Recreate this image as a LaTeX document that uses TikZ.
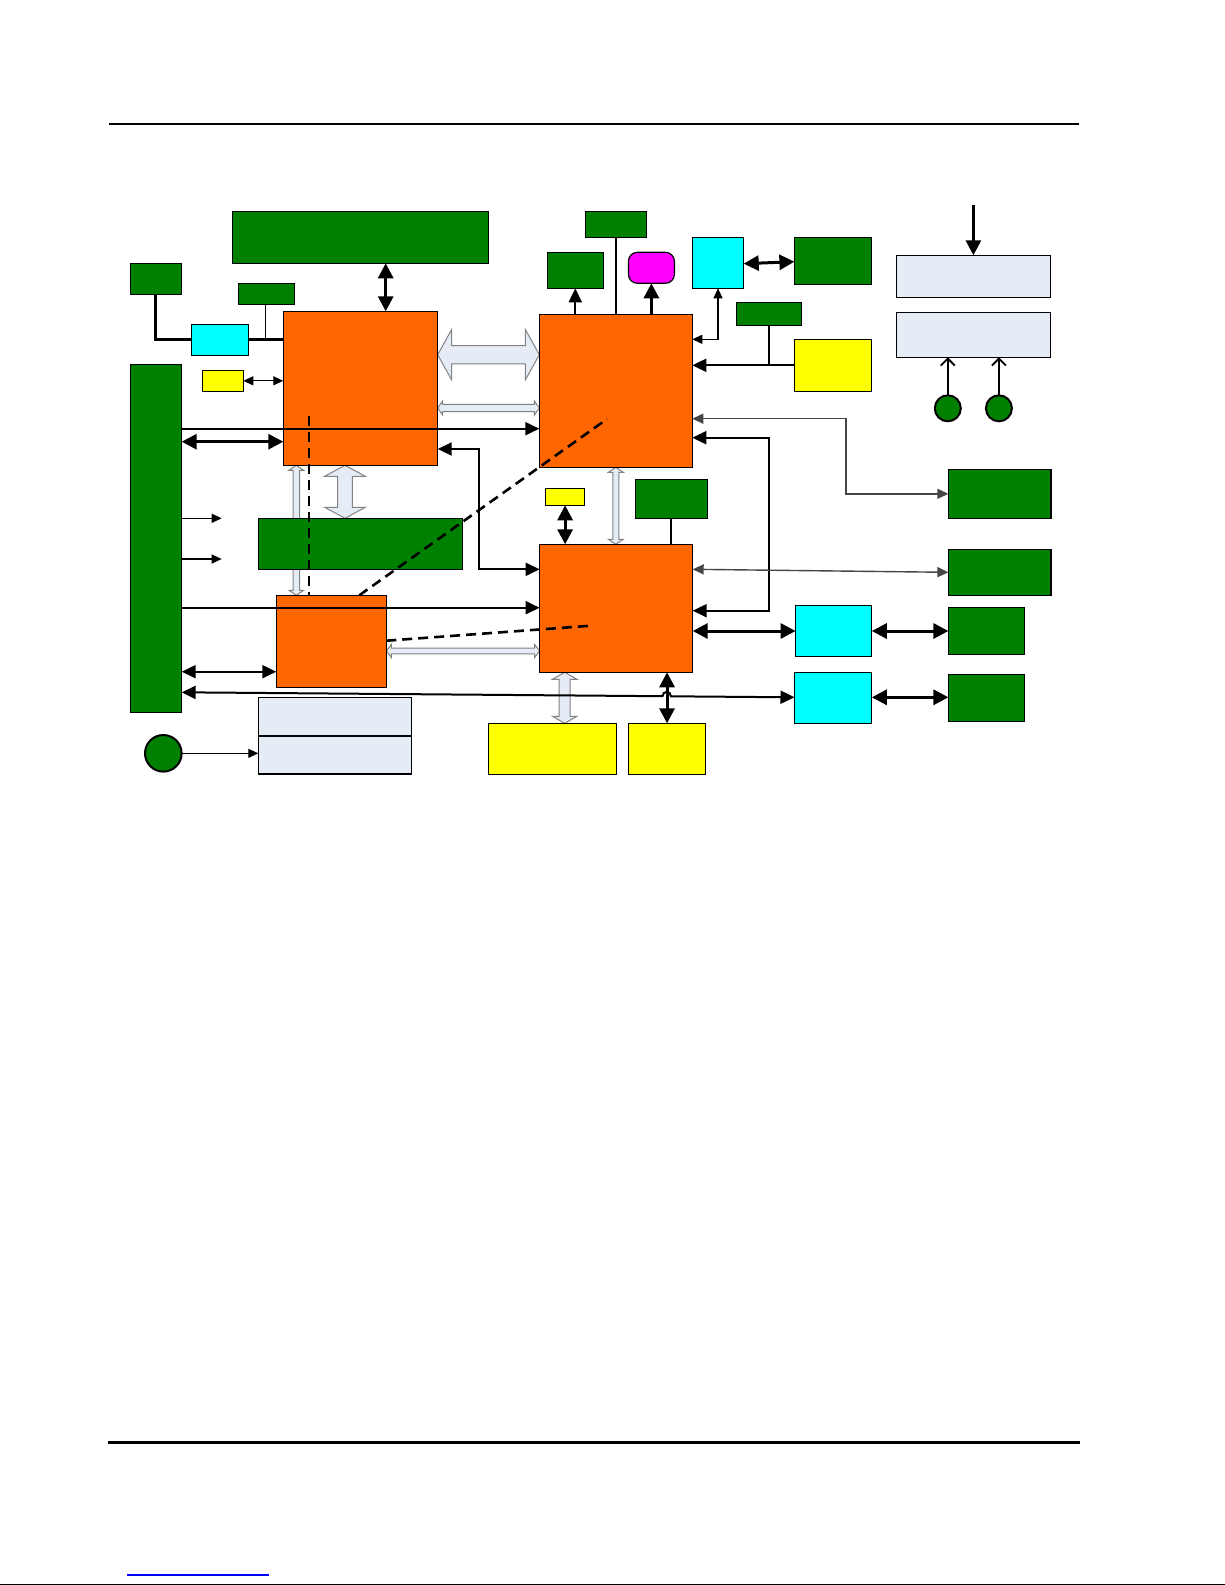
\documentclass[tikz,border=0pt]{standalone}
\usetikzlibrary{arrows.meta,fit}
\definecolor{cgreen}{RGB}{0,128,0}
\definecolor{corange}{RGB}{255,102,0}
\definecolor{ccyan}{RGB}{0,255,255}
\definecolor{cyellow}{RGB}{255,255,0}
\definecolor{cmag}{RGB}{255,0,255}
\definecolor{clight}{RGB}{230,236,246}
\definecolor{cgrline}{RGB}{70,70,70}
\definecolor{chollow}{RGB}{130,130,130}
\definecolor{clink}{RGB}{0,0,255}
% horizontal block double arrow: x1 x2 y shafthalf headhalf headlen
\newcommand\HArrowBlk[6]{%
  \filldraw[hollow] (#1,#3) -- (#1+#6,#3-#5) -- (#1+#6,#3-#4) -- (#2-#6,#3-#4) -- (#2-#6,#3-#5) -- (#2,#3)
   -- (#2-#6,#3+#5) -- (#2-#6,#3+#4) -- (#1+#6,#3+#4) -- (#1+#6,#3+#5) -- cycle;}
% vertical block double arrow: x y1 y2 shafthalf headhalf headlen
\newcommand\VArrowBlk[6]{%
  \filldraw[hollow] (#1,#2) -- (#1-#5,#2+#6) -- (#1-#4,#2+#6) -- (#1-#4,#3-#6) -- (#1-#5,#3-#6) -- (#1,#3)
   -- (#1+#5,#3-#6) -- (#1+#4,#3-#6) -- (#1+#4,#2+#6) -- (#1+#5,#2+#6) -- cycle;}
\tikzset{
  bx/.style={draw=black, line width=0.6pt, inner sep=0pt, outer sep=0pt},
  grn/.style={bx, fill=cgreen},
  org/.style={bx, fill=corange},
  cyb/.style={bx, fill=ccyan},
  ylw/.style={bx, fill=cyellow},
  lgt/.style={bx, fill=clight},
  mgb/.style={bx, fill=cmag, rounded corners=4.5pt},
  dot/.style={circle, draw=black, line width=1pt, fill=cgreen, inner sep=0pt, outer sep=0pt},
  hollow/.style={fill=clight, draw=chollow, line width=0.5pt},
  thk/.style={line width=1.5pt, >={Triangle[length=7.5pt,width=7.5pt]}},
  med/.style={line width=1pt, >={Triangle[length=7pt,width=6.5pt]}},
  thn/.style={line width=0.6pt, >={Triangle[length=5pt,width=4.5pt]}},
  gry/.style={line width=0.7pt, draw=cgrline, >={Triangle[length=5.5pt,width=5pt]}},
  dsh/.style={line width=1.3pt, dash pattern=on 5pt off 3pt},
  barb/.style={line width=0.9pt, >={Straight Barb[length=3.5pt,width=7pt]}},
}
\begin{document}
\begin{tikzpicture}[x=0.5pt,y=-0.5pt]
\useasboundingbox (0,0) rectangle (1225,1585);
\fill[white] (0,0) rectangle (1225,1585);

% page rules
\coordinate (rt1) at (109,124.3); \coordinate (rt2) at (1079,124.3);
\coordinate (rb1) at (108,1442.7); \coordinate (rb2) at (1080,1442.7);
\coordinate (lk1) at (127,1575); \coordinate (lk2) at (269,1575);
\coordinate (bb1) at (0,1584.3); \coordinate (bb2) at (1225,1584.3);
\draw[line width=1pt] (rt1) -- (rt2);
\draw[line width=1.4pt] (rb1) -- (rb2);
\draw[clink, line width=0.6pt] (lk1) -- (lk2);
\draw[line width=0.6pt] (bb1) -- (bb2);

% block arrows (behind boxes)
\HArrowBlk{437.7}{539.3}{354.7}{9.2}{25.3}{14}
\HArrowBlk{437.7}{539.3}{408}{3.7}{7.2}{5}
\VArrowBlk{296.3}{465.3}{595.3}{3.3}{7.3}{5}
\VArrowBlk{345}{465.3}{518.3}{7.3}{20.3}{11}
\VArrowBlk{615.8}{467.3}{544.3}{3}{7.4}{5}
\HArrowBlk{386.3}{539.6}{651}{2.9}{6.5}{5}
\VArrowBlk{564.7}{672.3}{723.3}{5.5}{12.2}{7}

% boxes
\node[grn, fit={(232.3,211.3) (488.7,263.3)}] (topg) {};
\node[grn, fit={(130.3,263.3) (181.7,294.3)}] (tlg) {};
\node[grn, fit={(238.3,283.3) (294.3,304.3)}] (g2) {};
\node[cyb, fit={(191.3,324.3) (248.3,355.3)}] (cy1) {};
\node[org, fit={(283.3,311.3) (437.7,465.3)}] (o1) {};
\node[ylw, fit={(202.3,370.3) (243.3,391.3)}] (y1) {};
\node[grn, fit={(130.3,364.3) (181.7,712.3)}] (tg) {};
\node[grn, fit={(258.3,518.3) (462.3,569.3)}] (gm) {};
\node[org, fit={(276.3,595.3) (386.3,687.3)}] (o4) {};
\node[lgt, fit={(258.3,697.3) (411.3,736)}] (lb1) {};
\node[lgt, fit={(258.3,736) (411.3,774)}] (lb2) {};
\node[dot, minimum size=18.3pt] (c1) at (163.3,753.3) {};
\node[org, fit={(539.3,314.3) (692.3,467.3)}] (o2) {};
\node[grn, fit={(585.4,211.3) (646.6,237.3)}] (gt) {};
\node[grn, fit={(547.2,252.3) (603.7,288.3)}] (gl) {};
\node[mgb, fit={(628.4,252.3) (674.4,283.3)}] (mg) {};
\node[cyb, fit={(692.3,237.3) (743.7,288.3)}] (cy2) {};
\node[grn, fit={(794.4,237.3) (871.8,284.3)}] (gr0) {};
\node[grn, fit={(736.2,302.3) (801.8,325.3)}] (gsm) {};
\node[ylw, fit={(794.4,339.3) (871.8,391.3)}] (y2) {};
\node[lgt, fit={(896.5,255.3) (1050.3,297.3)}] (lbA) {};
\node[lgt, fit={(896.5,312.3) (1050.3,357.3)}] (lbB) {};
\node[dot, minimum size=13pt] (cA) at (947.8,408.3) {};
\node[dot, minimum size=13pt] (cB) at (998.9,408.3) {};
\node[org, fit={(539.6,544.3) (692.7,672.3)}] (o3) {};
\node[ylw, fit={(545.5,488.3) (584.7,505.3)}] (ysm) {};
\node[grn, fit={(635.4,479.3) (707.5,518.3)}] (gs3) {};
\node[grn, fit={(948.4,469.3) (1050.9,518.3)}] (gR1) {};
\node[grn, fit={(948.4,549.3) (1050.9,595.3)}] (gR2) {};
\node[cyb, fit={(795.6,605.3) (871.8,656.3)}] (cy3) {};
\node[grn, fit={(948.4,607.3) (1024.6,654.3)}] (gR3) {};
\node[cyb, fit={(794.5,672.3) (871.8,723.3)}] (cy4) {};
\node[grn, fit={(948.4,674.3) (1024.6,721.3)}] (gR4) {};
\node[ylw, fit={(488.5,723.3) (616.5,774.3)}] (yl1) {};
\node[ylw, fit={(628.4,723.3) (705.7,774.3)}] (yl2) {};

% free ends
\coordinate (tipA) at (221.7,518.3);
\coordinate (tipB) at (221.7,559);
\coordinate (topin) at (973.4,205.3);

% connectors, left part
\draw[thk,<->] (385.7,0 |- topg.south) -- (385.7,0 |- o1.north);
\draw[line width=1.5pt] (155.7,0 |- tlg.south) |- (cy1.west);
\draw[line width=1.5pt] (cy1.east) -- (o1.west |- cy1.east);
\draw[line width=0.7pt] (265.7,0 |- g2.south) -- (265.7,0 |- cy1.east);
\draw[thn,<->] (y1.east) -- (o1.west |- y1.east);
\draw[med,->] (tg.east |- 0,428.7) -- (o2.west |- 0,428.7);
\draw[thk,<->] (tg.east |- 0,441.7) -- (o1.west |- 0,441.7);
\draw[med,<->] (o1.east |- 0,449) -| (479.3,569.3) -- (o3.west |- 0,569.3);
\draw[thn,->] (tg.east |- tipA) -- (tipA);
\draw[thn,->] (tg.east |- tipB) -- (tipB);
\draw[med,->] (tg.east |- 0,607.7) -- (o3.west |- 0,607.7);
\draw[med,<->] (tg.east |- 0,671.7) -- (o4.west |- 0,671.7);
\draw[med,<->] (tg.east |- 0,692.3) -- (662.5,696.2) .. controls (662.5,690.5) and (671,690.5) .. (671,696.3) -- (cy4.west |- 0,697.3);
\draw[thn,->] (c1.east) -- (lb2.west |- c1.east);

% dashed lines
\draw[dsh] (309,415.7) -- (309,0 |- o4.north);
\draw[dsh] (359.3,0 |- o4.north) -- (607,419);
\draw[dsh] (o4.east |- 0,640.7) -- (591,625.7);

% connectors, upper right
\draw[med,->] (575.3,0 |- o2.north) -- (575.3,0 |- gl.south);
\draw[line width=1pt] (615.9,0 |- o2.north) -- (615.9,0 |- gt.south);
\draw[thk,->] (651.4,0 |- o2.north) -- (651.4,0 |- mg.south);
\draw[thk,<->] (cy2.east |- 0,263.7) -- (gr0.west |- 0,261.7);
\draw[thn,<->] (o2.east |- 0,339.3) -| (718,0 |- cy2.south);
\draw[line width=1pt] (769,0 |- gsm.south) -- (769,0 |- y2.west);
\draw[med,->] (y2.west) -- (o2.east |- y2.west);
\draw[gry,<->] (o2.east |- 0,418.7) -| (845.8,493.8) -- (gR1.west);
\draw[med,<->] (o2.east |- 0,437.7) -| (768.6,610.7) -- (o3.east |- 0,610.7);
\draw[thk,->] (topin) -- (lbA.north);
\draw[barb,->] (cA.north) -- (cA.north |- lbB.south);
\draw[barb,->] (cB.north) -- (cB.north |- lbB.south);

% connectors, lower right
\draw[thk,<->] (ysm.south) -- (ysm.south |- o3.north);
\draw[line width=1pt] (671.3,0 |- gs3.south) -- (671.3,0 |- o3.north);
\draw[gry,<->] (o3.east |- 0,569.3) -- (gR2.west |- 0,572.3);
\draw[thk,<->] (o3.east |- 0,631) -- (cy3.west |- 0,631);
\draw[thk,<->] (cy3.east |- 0,631) -- (gR3.west |- 0,631);
\draw[thk,<->] (cy4.east |- 0,697.3) -- (gR4.west |- 0,697.3);
\draw[thk,<->] (yl2.north |- o3.south) -- (yl2.north);
\end{tikzpicture}
\end{document}
